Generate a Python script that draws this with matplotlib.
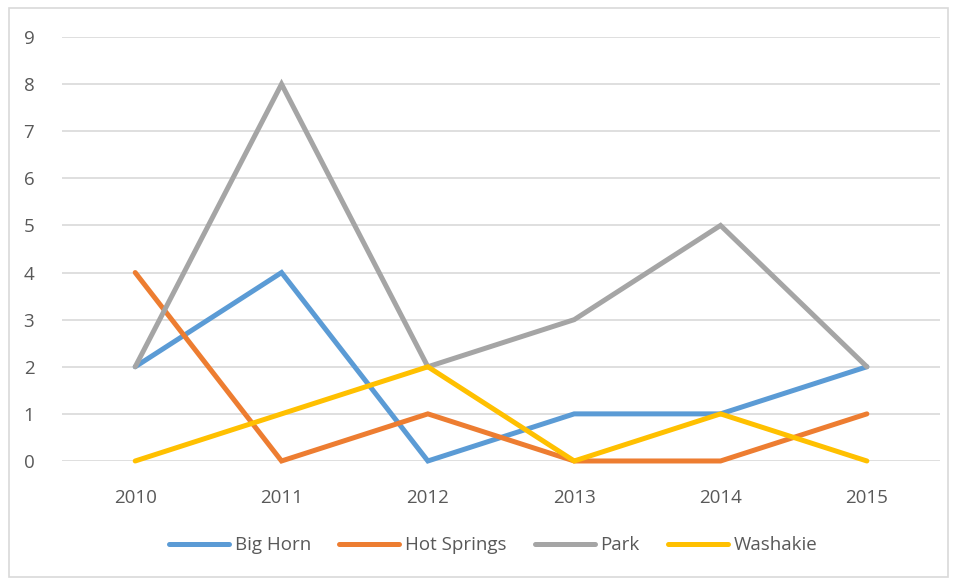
import matplotlib.pyplot as plt
from matplotlib.patches import Rectangle

years = ['2010', '2011', '2012', '2013', '2014', '2015']
big_horn = [2, 4, 0, 1, 1, 2]
hot_springs = [4, 0, 1, 0, 0, 1]
park = [2, 8, 2, 3, 5, 2]
washakie = [0, 1, 2, 0, 1, 0]

series = [
    ('Big Horn', big_horn, '#5B9BD5'),
    ('Hot Springs', hot_springs, '#ED7D31'),
    ('Park', park, '#A5A5A5'),
    ('Washakie', washakie, '#FFC000'),
]

plt.rcParams['font.family'] = ['Open Sans', 'DejaVu Sans']
text_col = '#595959'

fig = plt.figure(figsize=(9.56, 5.8), dpi=100)
fig.patches.append(Rectangle((0.009, 0.005), 0.983, 0.982, transform=fig.transFigure,
                             fill=False, edgecolor='#D9D9D9', linewidth=1.2))
ax = fig.add_axes([0.0649, 0.2052, 0.9184, 0.731])

x = list(range(len(years)))
for name, vals, col in series:
    ax.plot(x, vals, color=col, linewidth=3.6, label=name, solid_capstyle='round',
            solid_joinstyle='miter', clip_on=False)

ax.set_xlim(-0.5, len(years) - 0.5)
ax.set_ylim(0, 9)
ax.set_yticks(range(10))
ax.set_xticks(x)
ax.set_xticklabels(years)
ax.grid(axis='y', color='#D9D9D9', linewidth=1.2)
ax.set_axisbelow(True)
for s in ax.spines.values():
    s.set_visible(False)
ax.tick_params(length=0, labelsize=13.5, colors=text_col, pad=20)
ax.tick_params(axis='y', pad=20)

leg = fig.legend(loc='center', bbox_to_anchor=(0.516, 0.06), ncol=4, frameon=False,
                 fontsize=13.5, handlelength=3.2, columnspacing=1.5, handletextpad=0.3)
for t in leg.get_texts():
    t.set_color(text_col)

fig.savefig('out.png', dpi=100)
